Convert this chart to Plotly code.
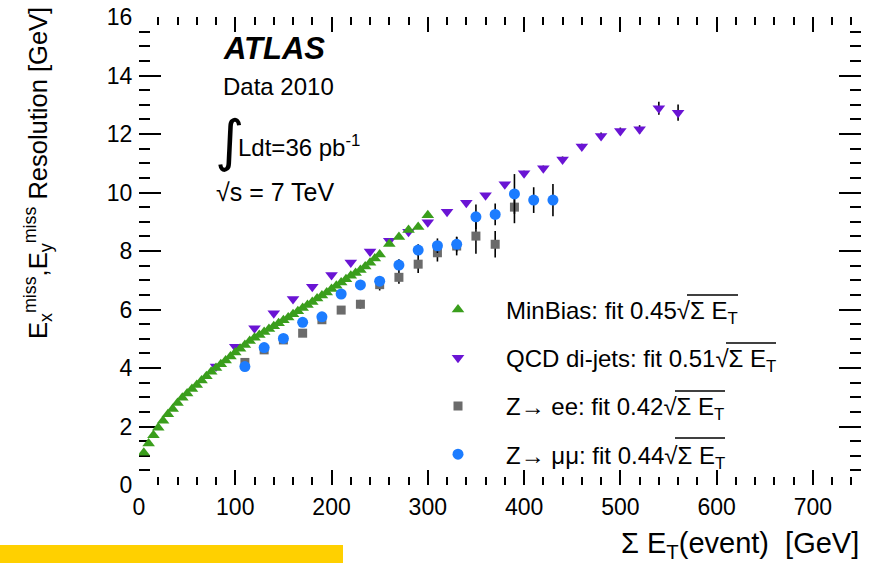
import plotly.graph_objects as go

# ---------------- data ----------------
minbias_x = [5, 10, 15, 20, 25, 30, 35, 40, 45, 50, 55, 60, 65, 70, 75, 80, 85, 90, 95, 100,
             105, 110, 115, 120, 125, 130, 135, 140, 145, 150, 155, 160, 165, 170, 175, 180,
             185, 190, 195, 200, 205, 210, 215, 220, 225, 230, 235, 240, 245, 250,
             260, 270, 280, 290, 300]
minbias_y = [1.10, 1.42, 1.70, 1.96, 2.20, 2.42, 2.60, 2.80, 2.98, 3.13, 3.28, 3.42, 3.57, 3.72,
             3.87, 4.00, 4.13, 4.26, 4.39, 4.53, 4.66, 4.79, 4.92, 5.03, 5.13, 5.23, 5.33, 5.43,
             5.53, 5.63, 5.73, 5.84, 5.94, 6.05, 6.15, 6.26, 6.38, 6.48, 6.58, 6.70, 6.81, 6.92,
             7.03, 7.15, 7.25, 7.35, 7.47, 7.60, 7.74, 7.88, 8.24, 8.48, 8.72, 8.82, 9.22]

qcd_x = [80, 100, 120, 140, 160, 180, 200, 220, 240, 260, 280, 300, 320, 340, 360, 380,
         400, 420, 440, 460, 480, 500, 520, 540, 560]
qcd_y = [4.05, 4.73, 5.36, 5.87, 6.36, 6.78, 7.18, 7.61, 7.98, 8.35, 8.66, 8.98, 9.34, 9.65,
         9.91, 10.28, 10.66, 10.83, 11.13, 11.57, 11.93, 12.10, 12.16, 12.88, 12.73]
qcd_err = [0.05, 0.05, 0.05, 0.05, 0.05, 0.05, 0.05, 0.05, 0.05, 0.05, 0.06, 0.06, 0.06, 0.07,
           0.07, 0.08, 0.08, 0.09, 0.10, 0.10, 0.12, 0.12, 0.14, 0.22, 0.28]

zee_x = [110, 130, 150, 170, 190, 210, 230, 250, 270, 290, 310, 330, 350, 370, 390]
zee_y = [4.19, 4.62, 4.96, 5.19, 5.65, 5.98, 6.18, 6.85, 7.10, 7.55, 7.94, 8.17, 8.51, 8.23, 9.50]
zee_err = [0.10, 0.10, 0.10, 0.10, 0.12, 0.12, 0.15, 0.20, 0.22, 0.30, 0.30, 0.32, 0.60, 0.45, 0.55]

zmm_x = [110, 130, 150, 170, 190, 210, 230, 250, 270, 290, 310, 330, 350, 370, 390, 410, 430]
zmm_y = [4.05, 4.70, 5.01, 5.56, 5.75, 6.53, 6.84, 6.97, 7.52, 8.03, 8.18, 8.23, 9.17, 9.25,
         9.95, 9.74, 9.74]
zmm_err = [0.08, 0.08, 0.10, 0.10, 0.10, 0.12, 0.12, 0.15, 0.20, 0.20, 0.25, 0.25, 0.42, 0.37,
           0.68, 0.44, 0.55]

labels = {
    "minbias": "MinBias: fit 0.45√Σ E<sub>T</sub>",
    "qcd": "QCD di-jets: fit 0.51√Σ E<sub>T</sub>",
    "zee": "Z→ ee: fit 0.42√Σ E<sub>T</sub>",
    "zmm": "Z→ μμ: fit 0.44√Σ E<sub>T</sub>",
}

GREEN = "#3a9e1c"
PURPLE = "#6a14d4"
GRAY = "#6b6b6b"
BLUE = "#1c7cff"
FONT = "Liberation Sans, Arial, sans-serif"

fig = go.Figure()

def err(e):
    return dict(type="data", array=e, visible=True, color="black", thickness=1.6, width=0)

fig.add_trace(go.Scatter(x=minbias_x, y=minbias_y, mode="markers", name=labels["minbias"],
                         legendgroup="g1", zorder=1,
                         marker=dict(symbol="triangle-up", size=11, color=GREEN)))
fig.add_trace(go.Scatter(x=qcd_x, y=qcd_y, mode="markers", name=labels["qcd"],
                         legendgroup="g2", zorder=0,
                         error_y=err(qcd_err),
                         marker=dict(symbol="triangle-down", size=11, color=PURPLE)))
fig.add_trace(go.Scatter(x=zee_x, y=zee_y, mode="markers", name=labels["zee"],
                         legendgroup="g3", zorder=2,
                         error_y=err(zee_err),
                         marker=dict(symbol="square", size=9, color=GRAY)))
fig.add_trace(go.Scatter(x=zmm_x, y=zmm_y, mode="markers", name=labels["zmm"],
                         legendgroup="g4", zorder=3,
                         error_y=err(zmm_err),
                         marker=dict(symbol="circle", size=11, color=BLUE)))

L, R, T, B = 139, 19, 17, 78
W, H = 880, 563
PW, PH = W - L - R, H - T - B

def px(xp):
    return (xp - L) / PW

def py(yp):
    return (T + PH - yp) / PH

LEG_F = 24
fig.update_layout(
    width=W, height=H,
    margin=dict(l=L, r=R, t=T, b=B, pad=0, autoexpand=False),
    paper_bgcolor="white", plot_bgcolor="white",
    font=dict(family=FONT, color="black", size=22),
    showlegend=True,
    legend=dict(x=px(410), y=py(287.5), xanchor="left", yanchor="top",
                bgcolor="rgba(0,0,0,0)", font=dict(size=LEG_F, family=FONT),
                tracegroupgap=14, itemwidth=86, traceorder="grouped"),
    xaxis=dict(range=[0, 750], showgrid=False, zeroline=False, automargin=False,
               showline=True, linecolor="black", linewidth=2, mirror="ticks",
               ticks="inside", ticklen=15, tickwidth=2, tickcolor="black",
               tickvals=[0, 100, 200, 300, 400, 500, 600, 700],
               tickfont=dict(size=23, family=FONT),
               minor=dict(dtick=20, ticks="inside", ticklen=8, tickwidth=2, tickcolor="black")),
    yaxis=dict(range=[0, 16], showgrid=False, zeroline=False, automargin=False,
               showline=True, linecolor="black", linewidth=2, mirror="ticks",
               ticks="inside", ticklen=22, tickwidth=2, tickcolor="black",
               tickvals=[0, 2, 4, 6, 8, 10, 12, 14, 16],
               tickfont=dict(size=23, family=FONT),
               minor=dict(dtick=0.5, ticks="inside", ticklen=11, tickwidth=2, tickcolor="black")),
)

ann = [
    dict(text="<b><i>ATLAS</i></b>", x=px(221), y=py(49), size=31),
    dict(text="Data 2010", x=px(221), y=py(86), size=24),
    dict(text="Ldt=36 pb<sup>-1</sup>", x=px(236), y=py(146), size=24),
    dict(text="√s = 7 TeV", x=px(214), y=py(192), size=25),
]
for a in ann:
    fig.add_annotation(text=a["text"], x=a["x"], y=a["y"], xref="paper", yref="paper",
                       xanchor="left", yanchor="middle", showarrow=False,
                       font=dict(size=a["size"], family=FONT, color="black"))
fig.add_annotation(text="∫", x=px(229), y=py(141), xref="paper", yref="paper",
                   xanchor="center", yanchor="middle", showarrow=False,
                   font=dict(size=56, family="DejaVu Sans", color="black"))

# overlines of the square roots in the legend
for (x0, x1, yy) in [(687, 738, 309 - 14), (726, 776, 357 - 14), (675, 725, 405 - 14), (675, 725, 452 - 14)]:
    fig.add_shape(type="line", xref="paper", yref="paper",
                  x0=px(x0), x1=px(x1), y0=py(yy), y1=py(yy),
                  line=dict(color="black", width=1.6))

# axis titles
fig.add_annotation(text="E<sub>x</sub><sup>miss</sup>,E<sub>y</sub><sup>miss</sup> Resolution [GeV]",
                   x=px(38), y=py(173), xref="paper", yref="paper", textangle=-90,
                   xanchor="center", yanchor="middle", showarrow=False,
                   font=dict(size=25.5, family=FONT, color="black"))
fig.add_annotation(text="Σ E<sub>T</sub>(event)  [GeV]",
                   x=px(861), y=py(545), xref="paper", yref="paper",
                   xanchor="right", yanchor="middle", showarrow=False,
                   font=dict(size=29, family=FONT, color="black"))

# yellow decorative bar
fig.add_shape(type="rect", xref="paper", yref="paper",
              x0=px(0), x1=px(343), y0=py(563), y1=py(545),
              fillcolor="#ffd000", line=dict(width=0), layer="above")

fig.write_html("out.html", config={"displayModeBar": False},
               post_script="document.body.style.margin='0';document.body.style.padding='0';")
